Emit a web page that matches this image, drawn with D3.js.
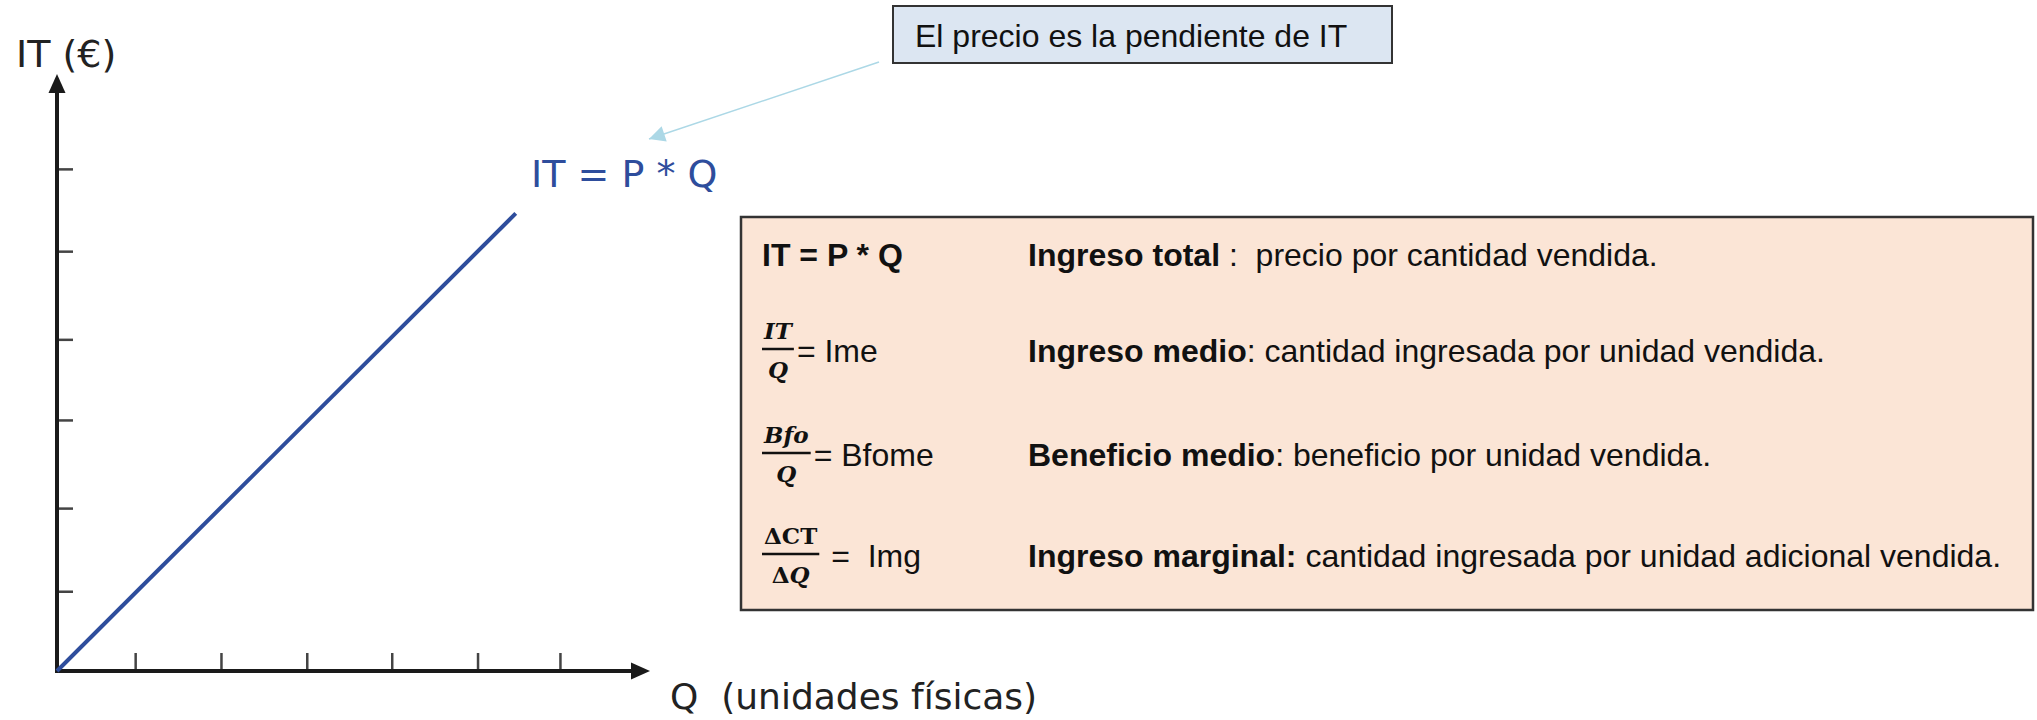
<!DOCTYPE html>
<html>
<head>
<meta charset="utf-8">
<script src="https://cdn.jsdelivr.net/npm/d3@7"></script>
<style>
    body { margin: 0; background: #fff; }
</style>
</head>
<body>
<div id="chart"></div>
<script>
// line IT = P * Q (Q, IT in chart units)
const qValues = [0, 5.4];
const itValues = [0, 5.45];
const xTicks = [0.92, 1.93, 2.94, 3.94, 4.95, 5.92];
const yTicks = [0.95, 1.94, 2.99, 3.95, 5.0, 5.98];

const xLabel = "Q  (unidades físicas)";
const yLabel = "IT (€)";
const lineLabel = "IT = P * Q";
const calloutText = "El precio es la pendiente de IT";

// info box rows
const fractionNum = [null, "IT", "Bfo", "ΔCT"];
const fractionDen = [null, "Q", "Q", "ΔQ"];
const formulaText = ["IT = P * Q", "= Ime", "= Bfome", " =  Img"];
const termNames = ["Ingreso total", "Ingreso medio", "Beneficio medio", "Ingreso marginal:"];
const termDefs = [" :  precio por cantidad vendida.", ": cantidad ingresada por unidad vendida.",
    ": beneficio por unidad vendida.", " cantidad ingresada por unidad adicional vendida."];

const width = 2037;
const height = 720;
const blue = "#2e4d9c";

const x = d3.scaleLinear().domain([0, 6.98]).range([57, 650]);
const y = d3.scaleLinear().domain([0, 7.11]).range([671, 74]);

const svg = d3.select("#chart")
    .append("svg")
    .attr("width", width)
    .attr("height", height);

const defs = svg.append("defs");
defs.append("marker")
    .attr("id", "calloutHead")
    .attr("viewBox", "0 0 10 10")
    .attr("refX", 10)
    .attr("refY", 5)
    .attr("markerUnits", "userSpaceOnUse")
    .attr("markerWidth", 22)
    .attr("markerHeight", 16)
    .attr("orient", "auto")
    .append("path")
    .attr("d", "M0,0L10,5L0,10z")
    .attr("fill", "#acd8e6");

// ticks
svg.append("g")
    .attr("transform", `translate(0,${y(0)})`)
    .call(d3.axisBottom(x).tickValues(xTicks).tickSize(-18).tickFormat(""))
    .call(g => g.select(".domain").remove())
    .call(g => g.selectAll("line").attr("stroke", "#444").attr("stroke-width", 2.5));

svg.append("g")
    .attr("transform", `translate(${x(0)},0)`)
    .call(d3.axisLeft(y).tickValues(yTicks).tickSize(-16).tickFormat(""))
    .call(g => g.select(".domain").remove())
    .call(g => g.selectAll("line").attr("stroke", "#444").attr("stroke-width", 2.5));

// axis lines with arrow heads
const x0 = x(0), y0 = y(0);
const xTip = x.range()[1], yTip = y.range()[1];
svg.append("path")
    .attr("d", `M${x0},${yTip + 10}V${y0}H${xTip - 10}`)
    .attr("fill", "none")
    .attr("stroke", "#1a1a1a")
    .attr("stroke-width", 4);
svg.append("path")
    .attr("d", `M${xTip},${y0}L${xTip - 19},${y0 - 8.5}L${xTip - 19},${y0 + 8.5}Z`)
    .attr("fill", "#1a1a1a");
svg.append("path")
    .attr("d", `M${x0},${yTip}L${x0 - 8.5},${yTip + 19}L${x0 + 8.5},${yTip + 19}Z`)
    .attr("fill", "#1a1a1a");

// IT line
const line = d3.line()
    .x(d => x(d[0]))
    .y(d => y(d[1]));

svg.append("path")
    .datum(d3.zip(qValues, itValues))
    .attr("d", line)
    .attr("fill", "none")
    .attr("stroke", blue)
    .attr("stroke-width", 4);

// axis labels
svg.append("text")
    .attr("x", 16)
    .attr("y", 67)
    .attr("font-family", "DejaVu Sans")
    .attr("font-size", 38)
    .attr("fill", "#222")
    .text(yLabel);

svg.append("text")
    .attr("x", 670)
    .attr("y", 709)
    .attr("font-family", "DejaVu Sans")
    .attr("font-size", 36)
    .attr("fill", "#222")
    .style("white-space", "pre")
    .text(xLabel);

svg.append("text")
    .attr("x", 531)
    .attr("y", 187)
    .attr("font-family", "DejaVu Sans")
    .attr("font-size", 38)
    .attr("fill", blue)
    .text(lineLabel);

// callout
svg.append("rect")
    .attr("x", 893)
    .attr("y", 6)
    .attr("width", 499)
    .attr("height", 57)
    .attr("fill", "#dce6f2")
    .attr("stroke", "#333")
    .attr("stroke-width", 2);

svg.append("text")
    .attr("x", 915)
    .attr("y", 47)
    .attr("font-family", "Liberation Sans, Arial, sans-serif")
    .attr("font-size", 32)
    .attr("fill", "#111")
    .text(calloutText);

svg.append("line")
    .attr("x1", 879)
    .attr("y1", 62)
    .attr("x2", 649)
    .attr("y2", 139)
    .attr("stroke", "#acd8e6")
    .attr("stroke-width", 1.5)
    .attr("marker-end", "url(#calloutHead)");

// info box
svg.append("rect")
    .attr("x", 741)
    .attr("y", 217)
    .attr("width", 1292)
    .attr("height", 393)
    .attr("fill", "#fbe5d6")
    .attr("stroke", "#333")
    .attr("stroke-width", 2.5);

const rowY = [255, 351, 455, 556];
const colA = 762;
const colB = 1028;

const rows = svg.append("g")
    .selectAll("g")
    .data(rowY)
    .join("g")
    .attr("transform", d => `translate(0,${d})`);

rows.each(function (c, i) {
    const g = d3.select(this);
    let labelX = colA;
    if (fractionNum[i]) {
        const num = g.append("text")
            .attr("y", -12)
            .attr("font-family", "DejaVu Serif")
            .attr("font-size", 23)
            .attr("font-weight", "bold")
            .attr("text-anchor", "middle")
            .attr("fill", "#111");
        const den = g.append("text")
            .attr("y", 27)
            .attr("font-family", "DejaVu Serif")
            .attr("font-size", 23)
            .attr("font-weight", "bold")
            .attr("text-anchor", "middle")
            .attr("fill", "#111");
        [[num, fractionNum[i]], [den, fractionDen[i]]].forEach(([t, s]) => {
            if (s[0] === "Δ") {
                t.append("tspan").text("Δ");
                t.append("tspan").attr("font-style", s === "ΔQ" ? "italic" : null).text(s.slice(1));
            } else {
                t.attr("font-style", "italic").text(s);
            }
        });
        const w = Math.max(num.node().getComputedTextLength(), den.node().getComputedTextLength()) + 4;
        num.attr("x", colA + w / 2);
        den.attr("x", colA + w / 2);
        g.append("line")
            .attr("x1", colA)
            .attr("x2", colA + w)
            .attr("y1", -2)
            .attr("y2", -2)
            .attr("stroke", "#111")
            .attr("stroke-width", 2.5);
        labelX = colA + w + 3;
    }
    g.append("text")
        .attr("x", labelX)
        .attr("y", 11)
        .attr("font-family", "Liberation Sans, Arial, sans-serif")
        .attr("font-size", 32)
        .attr("font-weight", i === 0 ? "bold" : null)
        .attr("fill", "#111")
        .style("white-space", "pre")
        .text(formulaText[i]);

    const desc = g.append("text")
        .attr("x", colB)
        .attr("y", 11)
        .attr("font-family", "Liberation Sans, Arial, sans-serif")
        .attr("font-size", 32)
        .attr("fill", "#111")
        .style("white-space", "pre");
    desc.append("tspan").attr("font-weight", "bold").text(termNames[i]);
    desc.append("tspan").text(termDefs[i]);
});
</script>
</body>
</html>
